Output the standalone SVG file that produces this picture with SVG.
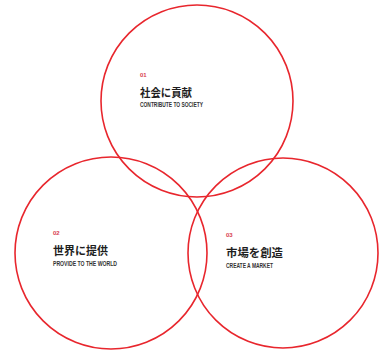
<svg xmlns="http://www.w3.org/2000/svg" width="380" height="354" viewBox="0 0 380 354">
<style>
.c{fill:none;stroke:#e8262d;stroke-width:1.6}
.n{font-family:"Liberation Sans",sans-serif;font-weight:bold;font-size:6px;fill:#d8404f}
.j{font-family:"Noto Sans CJK JP",sans-serif;font-weight:bold;font-size:11px;fill:#1e1e1e}
.e{font-family:"Liberation Sans",sans-serif;font-weight:bold;font-size:6.5px;fill:#333}
</style>
<rect width="380" height="354" fill="#fff"/>
<g id="connectors"/>
<g id="node1">
<circle class="c" cx="197" cy="101" r="96"/>
<text class="n" x="140" y="77">01</text>
<text class="j" x="140" y="97" textLength="52" lengthAdjust="spacingAndGlyphs">社会に貢献</text>
<text class="e" x="140" y="107" textLength="63" lengthAdjust="spacingAndGlyphs">CONTRIBUTE TO SOCIETY</text>
</g>
<g id="node2">
<circle class="c" cx="111" cy="253" r="96"/>
<text class="n" x="53" y="235">02</text>
<text class="j" x="53" y="255" textLength="55" lengthAdjust="spacingAndGlyphs">世界に提供</text>
<text class="e" x="53" y="266" textLength="64" lengthAdjust="spacingAndGlyphs">PROVIDE TO THE WORLD</text>
</g>
<g id="node3">
<circle class="c" cx="283" cy="253" r="95"/>
<text class="n" x="226" y="237">03</text>
<text class="j" x="226" y="257" textLength="57" lengthAdjust="spacingAndGlyphs">市場を創造</text>
<text class="e" x="226" y="268" textLength="47" lengthAdjust="spacingAndGlyphs">CREATE A MARKET</text>
</g>
</svg>
